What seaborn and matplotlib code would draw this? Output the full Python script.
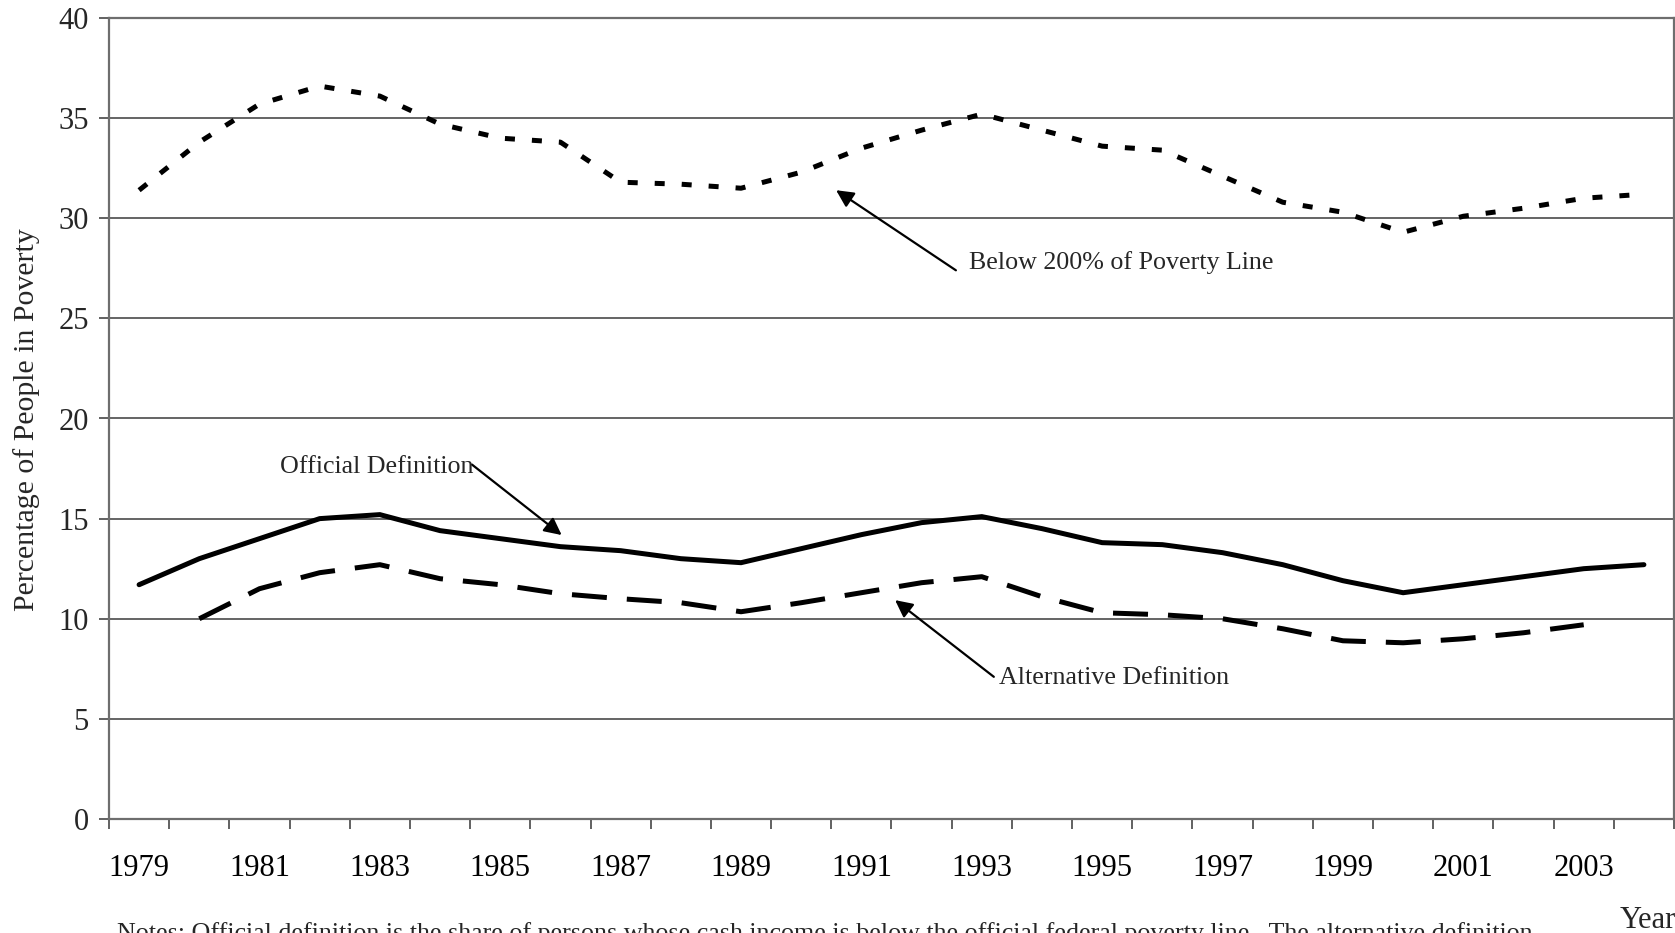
import matplotlib
matplotlib.use("Agg")
import matplotlib.pyplot as plt
import numpy as np
import pandas as pd
import seaborn as sns

# Poverty rates by year (percent of people)
years = list(range(1979, 2005))
official = [11.7, 13.0, 14.0, 15.0, 15.2, 14.4, 14.0, 13.6, 13.4, 13.0, 12.8, 13.5, 14.2,
            14.8, 15.1, 14.5, 13.8, 13.7, 13.3, 12.7, 11.9, 11.3, 11.7, 12.1, 12.5, 12.7]
alt_years = list(range(1980, 2004))
alternative = [10.0, 11.5, 12.3, 12.7, 12.0, 11.7, 11.25, 11.0, 10.8, 10.35, 10.8, 11.3,
               11.8, 12.1, 11.1, 10.3, 10.2, 10.0, 9.5, 8.9, 8.8, 9.0, 9.3, 9.7]
below200 = [31.4, 33.8, 35.7, 36.6, 36.1, 34.7, 34.0, 33.8, 31.8, 31.7, 31.5, 32.3, 33.5,
            34.4, 35.2, 34.4, 33.6, 33.4, 32.1, 30.8, 30.3, 29.3, 30.1, 30.5, 31.0, 31.2]
label_years = list(range(1979, 2004, 2))
y_ticks = list(range(0, 45, 5))

sns.set_theme(style="white")
plt.rcParams["font.family"] = ["Liberation Serif", "DejaVu Serif"]

W, H = 1675, 933
fig = plt.figure(figsize=(W / 100, H / 100), dpi=100)
ax = fig.add_axes([109 / W, 114 / H, (1674 - 109) / W, (819 - 18) / H])

df_off = pd.DataFrame({"year": years, "pct": official})
df_alt = pd.DataFrame({"year": alt_years, "pct": alternative})
df_200 = pd.DataFrame({"year": years, "pct": below200})

lw = 3.6
sns.lineplot(data=df_off, x="year", y="pct", ax=ax, color="black", linewidth=lw,
             solid_joinstyle="miter")
sns.lineplot(data=df_alt, x="year", y="pct", ax=ax, color="black", linewidth=lw,
             linestyle=(0, (7, 4)))
sns.lineplot(data=df_200, x="year", y="pct", ax=ax, color="black", linewidth=lw,
             linestyle=(0, (2, 3.4)))

ax.set_xlim(1978.5, 2004.5)
ax.set_ylim(0, 40)

# horizontal gridlines
ax.set_yticks(y_ticks)
ax.yaxis.grid(True, color="#3a3a3a", linewidth=1.1)
ax.xaxis.grid(False)
ax.set_axisbelow(True)

# category-style x axis: marks between years, labels on odd years
ax.set_xticks(label_years)
ax.set_xticklabels([str(y) for y in label_years])
ax.set_xticks(np.arange(1978.5, 2005, 1.0), minor=True)
ax.tick_params(axis="x", which="major", length=0, pad=25, labelsize=22, colors="black")
ax.tick_params(axis="x", which="minor", length=7.5, width=1.3, direction="out",
               color="#555555", bottom=True)
ax.tick_params(axis="y", which="major", length=7.5, width=1.3, direction="out",
               color="#555555", pad=7, labelsize=22, left=True)
ax.set_xlabel("")
ax.set_ylabel("")

for side in ["left", "bottom", "right", "top"]:
    ax.spines[side].set_color("#6e6e6e")
    ax.spines[side].set_linewidth(1.6)

fig.text(27 / W, 1 - 420 / H, "Percentage of People in Poverty", rotation=90,
         ha="center", va="center", fontsize=21.5)

# series annotations
arrow = dict(arrowstyle="-|>", color="black", lw=1.6, mutation_scale=26,
             shrinkA=0, shrinkB=0)
ax.annotate("", xy=(1990.58, 31.4), xytext=(1992.57, 27.4), arrowprops=arrow)
ax.text(1992.79, 27.8, "Below 200% of Poverty Line", fontsize=18.7, ha="left", va="center")

ax.annotate("", xy=(1986.02, 14.18), xytext=(1984.53, 17.7), arrowprops=arrow)
ax.text(1981.34, 17.6, "Official Definition", fontsize=18.7, ha="left", va="center")

ax.annotate("", xy=(1991.56, 10.93), xytext=(1993.2, 7.1), arrowprops=arrow)
ax.text(1993.28, 7.04, "Alternative Definition", fontsize=18.7, ha="left", va="center")

fig.text(1620 / W, 1 - 928 / H, "Year", fontsize=22, ha="left", va="baseline")
fig.text(117 / W, 1 - 940 / H,
         "Notes: Official definition is the share of persons whose cash income is below "
         "the official federal poverty line.  The alternative definition",
         fontsize=18.7, ha="left", va="baseline")

fig.savefig("out.png", dpi=100)
